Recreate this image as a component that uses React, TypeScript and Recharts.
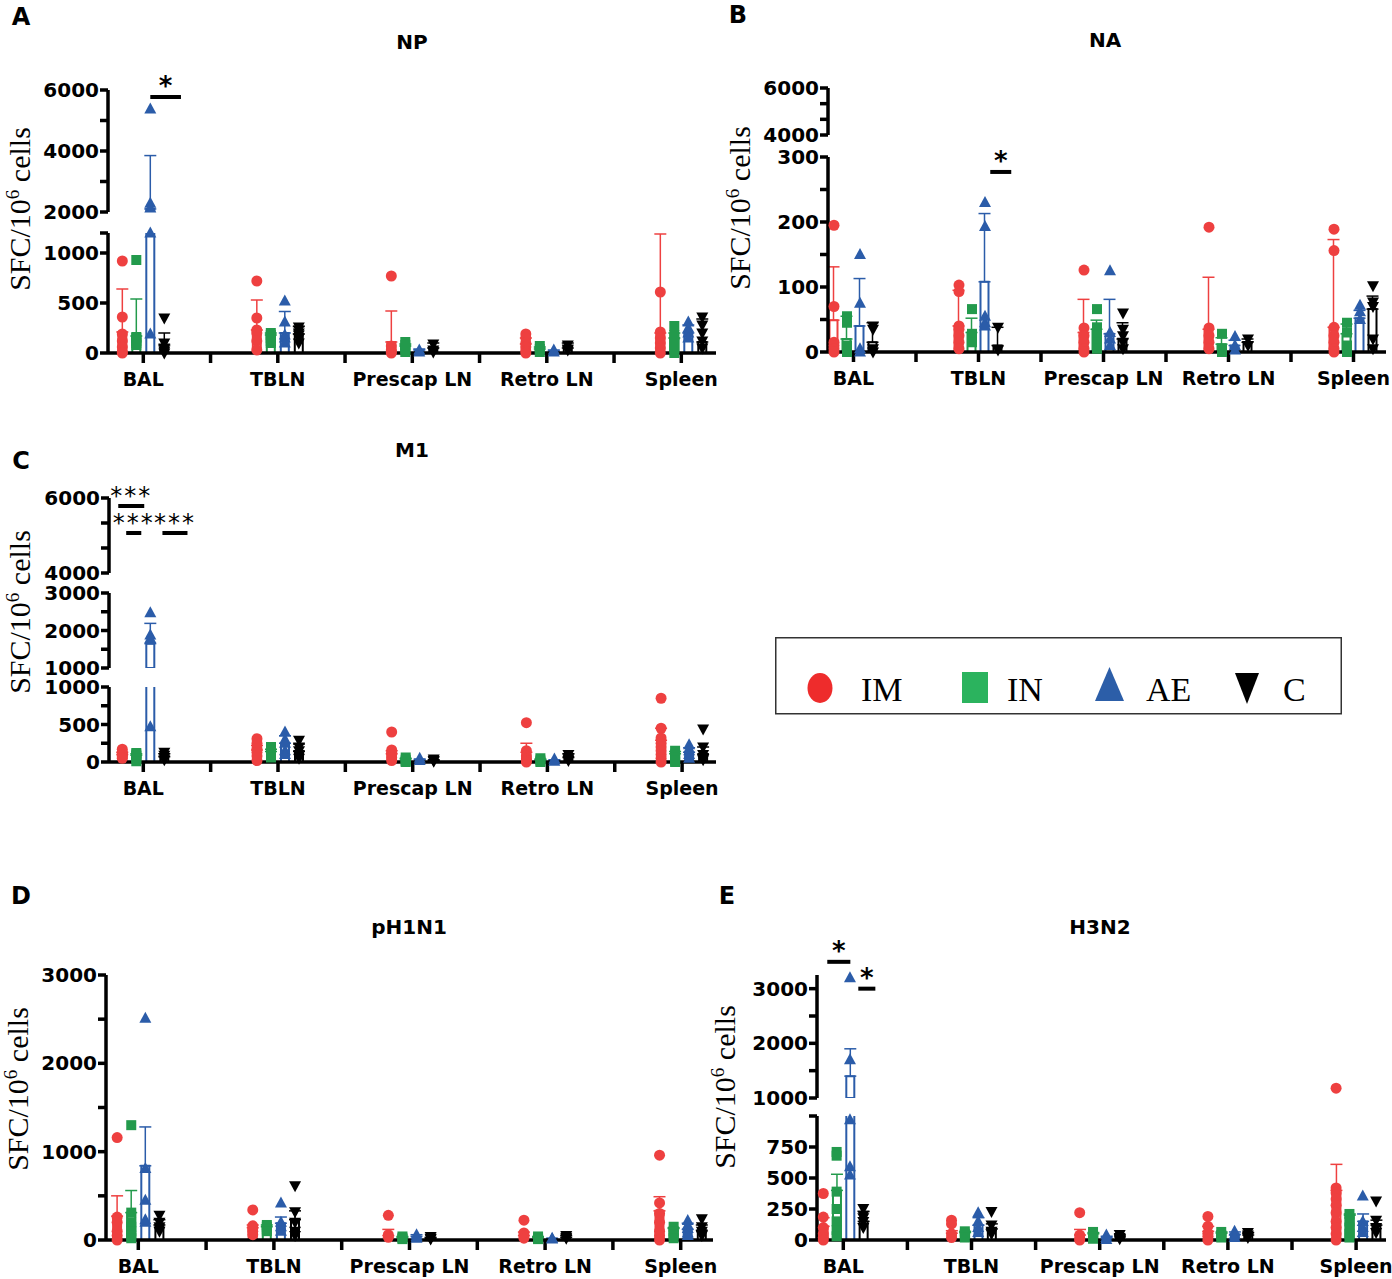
import React from "react";
import { ComposedChart, Bar, Cell, ErrorBar, Scatter, XAxis, YAxis, ReferenceLine } from "recharts";

const SANS = "'DejaVu Sans', Verdana, sans-serif";
const SERIF = "'Liberation Serif', 'Times New Roman', serif";

const CATEGORIES = ["BAL", "TBLN", "Prescap LN", "Retro LN", "Spleen"];
const GROUPS = ["IM", "IN", "AE", "C"];
const COLORS: Record<string, string> = { IM: "#ee4040", IN: "#239a4c", AE: "#2b5ca9", C: "#000000" };
const OFFSETS = [-0.156, -0.052, 0.052, 0.156];
const X_TICKS = [0, 0.5, 1, 1.5, 2, 2.5, 3, 3.5, 4];

// rows = categories, columns = IM, IN, AE, C
const NP_MEAN = [[210, 170, 2100, 80], [230, 180, 200, 190], [110, 70, 30, 50], [90, 40, 20, 50], [200, 150, 200, 110]];
const NP_SD = [[430, 370, 1750, 120], [300, 20, 215, 75], [310, 20, 10, 50], [60, 20, 10, 50], [990, 50, 80, 230]];
const NP_POINTS = [
  [[920, 360, 190, 120, 60, 10, 0], [930, 160, 150, 120, 100, 80], [5380, 2290, 2130, 1200, 190], [350, 100, 50, 20, 0]],
  [[720, 350, 230, 200, 120, 30], [200, 180, 150, 120, 100], [520, 310, 180, 150, 100], [260, 230, 200, 180, 150, 100]],
  [[770, 70, 30, 10, 0], [110, 80, 40, 10], [30, 10], [90, 30, 10]],
  [[190, 150, 100, 60, 20, 0], [70, 40, 10], [30, 10], [80, 40, 30]],
  [[610, 210, 150, 100, 50, 0], [270, 180, 150, 100, 50, 0], [310, 250, 200, 150], [360, 280, 200, 120, 50]],
];

const NA_MEAN = [[49, 20, 40, 15], [40, 30, 108, 10], [30, 35, 28, 20], [35, 12, 10, 15], [38, 28, 52, 66]];
const NA_SD = [[82, 35, 73, 30], [55, 22, 105, 28], [51, 14, 53, 25], [80, 10, 8, 5], [135, 15, 12, 20]];
const NA_POINTS = [
  [[195, 70, 15, 10, 5, 0], [55, 45, 10, 5, 0], [150, 75, 5, 0], [40, 35, 5, 0]],
  [[103, 93, 40, 35, 25, 15, 5], [66, 28, 20, 15], [230, 193, 55, 45, 40], [38, 3]],
  [[126, 37, 25, 15, 5, 0], [66, 38, 25, 15, 5], [125, 30, 20, 10], [60, 35, 25, 15, 5]],
  [[192, 37, 25, 15, 5], [28, 5, 0], [24, 10, 3], [20, 10]],
  [[189, 156, 38, 25, 15, 5, 0], [45, 30, 10, 5, 0], [72, 62, 50], [102, 77, 70, 20, 5]],
];

const M1_MEAN = [[100, 90, 1650, 70], [160, 140, 250, 140], [110, 40, 30, 20], [130, 30, 20, 60], [290, 110, 130, 100]];
const M1_SD = [[30, 20, 540, 40], [60, 30, 100, 100], [40, 10, 10, 10], [120, 10, 10, 50], [160, 30, 60, 100]];
const M1_POINTS = [
  [[170, 130, 110, 90, 70, 50], [120, 100, 80, 50, 10], [2475, 1880, 1790, 470], [130, 90, 60, 30]],
  [[310, 250, 180, 130, 80, 20], [200, 150, 100, 60], [400, 300, 250, 150, 100], [290, 200, 150, 100, 50]],
  [[400, 160, 130, 100, 60, 20], [60, 30, 10, 0], [50, 20], [40, 20, 10]],
  [[524, 150, 80, 40, 20, 0], [50, 20, 0], [40, 10], [100, 60, 40, 20]],
  [[850, 450, 320, 250, 200, 150, 100, 50, 0], [150, 100, 60, 20, 0], [230, 180, 150, 100, 50], [440, 200, 100, 60, 30]],
];

const H1_MEAN = [[270, 310, 840, 170], [140, 150, 190, 230], [50, 30, 40, 20], [50, 30, 15, 30], [330, 130, 120, 110]];
const H1_SD = [[230, 250, 440, 60], [30, 20, 70, 100], [70, 10, 20, 10], [40, 10, 5, 20], [160, 10, 70, 60]];
const H1_POINTS = [
  [[1160, 260, 200, 100, 50, 0], [1300, 310, 200, 150, 100, 50, 20], [2510, 810, 450, 230, 200], [280, 200, 150, 100]],
  [[340, 160, 130, 100, 60], [170, 150, 120, 100], [420, 200, 150, 100], [615, 320, 200, 100, 50]],
  [[280, 60, 30], [40, 20, 10], [60, 40, 20], [40, 20, 10]],
  [[225, 80, 50, 20], [40, 20, 10], [20, 10], [50, 30, 20]],
  [[960, 420, 300, 200, 100, 50, 0], [150, 100, 60, 20], [220, 170, 130, 80, 50], [240, 150, 100, 50]],
];

const H3_MEAN = [[110, 400, 1400, 150], [55, 60, 120, 90], [40, 50, 20, 25], [70, 55, 45, 40], [400, 200, 150, 120]];
const H3_SD = [[70, 130, 500, 80], [20, 10, 60, 40], [45, 10, 10, 15], [40, 10, 20, 20], [210, 10, 60, 40]];
const H3_POINTS = [
  [[375, 185, 100, 50, 20, 0], [710, 680, 390, 250, 150, 80, 30], [3200, 1700, 970, 590, 525], [255, 200, 180, 150, 100]],
  [[160, 130, 50, 20], [70, 50, 20], [220, 150, 100, 60], [230, 120, 70, 50]],
  [[220, 40, 10, 0], [65, 30, 10], [40, 20, 5], [45, 20, 10]],
  [[190, 110, 55, 30, 0], [65, 40, 20], [70, 40, 20], [60, 40, 20]],
  [[1180, 420, 380, 330, 280, 220, 150, 100, 50, 0], [210, 150, 100, 50, 20], [355, 150, 100, 60], [315, 160, 100, 60]],
];

type Seg = { lo: number; hi: number; ticks: number[]; labels: number[]; top: number; bottom: number };
type Note = { seg: number; x1: number; x2: number; y: number; text: string; bold: boolean };
type PanelDef = {
  mean: number[][]; sd: number[][]; points: number[][][];
  chartLeft: number; axisX: number; right: number; cat0: number; spacing: number;
  segs: Seg[]; notes: Note[];
};

const PANEL_A: PanelDef = {
  mean: NP_MEAN, sd: NP_SD, points: NP_POINTS,
  chartLeft: 0, axisX: 108, right: 716, cat0: 143.3, spacing: 134.5,
  segs: [
    { lo: 2000, hi: 6000, ticks: [2000, 3000, 4000, 5000, 6000], labels: [2000, 4000, 6000], top: 90, bottom: 212 },
    { lo: 0, hi: 1200, ticks: [0, 500, 1000, 1200], labels: [0, 500, 1000], top: 233, bottom: 353 },
  ],
  notes: [{ seg: 0, x1: 0.052, x2: 0.28, y: 5770, text: "*", bold: true }],
};

const PANEL_B: PanelDef = {
  mean: NA_MEAN, sd: NA_SD, points: NA_POINTS,
  chartLeft: 700, axisX: 828, right: 1386, cat0: 853.5, spacing: 125,
  segs: [
    { lo: 4000, hi: 6000, ticks: [4000, 4667, 5333, 6000], labels: [4000, 6000], top: 88, bottom: 135 },
    { lo: 0, hi: 300, ticks: [0, 50, 100, 150, 200, 250, 300], labels: [0, 100, 200, 300], top: 157, bottom: 352 },
  ],
  notes: [{ seg: 1, x1: 1.094, x2: 1.262, y: 277, text: "*", bold: true }],
};

const PANEL_C: PanelDef = {
  mean: M1_MEAN, sd: M1_SD, points: M1_POINTS,
  chartLeft: 0, axisX: 109, right: 716, cat0: 143.3, spacing: 134.7,
  segs: [
    { lo: 4000, hi: 6000, ticks: [4000, 4667, 5333, 6000], labels: [4000, 6000], top: 498, bottom: 573 },
    { lo: 1000, hi: 3000, ticks: [1000, 1500, 2000, 2500, 3000], labels: [1000, 2000, 3000], top: 593, bottom: 668 },
    { lo: 0, hi: 1000, ticks: [0, 250, 500, 750, 1000], labels: [0, 500, 1000], top: 687, bottom: 762 },
  ],
  notes: [
    { seg: 0, x1: -0.186, x2: 0.007, y: 5787, text: "***", bold: false },
    { seg: 0, x1: -0.127, x2: -0.015, y: 5067, text: "***", bold: false },
    { seg: 0, x1: 0.142, x2: 0.328, y: 5067, text: "***", bold: false },
  ],
};

const PANEL_D: PanelDef = {
  mean: H1_MEAN, sd: H1_SD, points: H1_POINTS,
  chartLeft: 0, axisX: 106, right: 713, cat0: 138.3, spacing: 135.6,
  segs: [
    { lo: 0, hi: 3000, ticks: [0, 500, 1000, 1500, 2000, 2500, 3000], labels: [0, 1000, 2000, 3000], top: 975, bottom: 1240 },
  ],
  notes: [],
};

const PANEL_E: PanelDef = {
  mean: H3_MEAN, sd: H3_SD, points: H3_POINTS,
  chartLeft: 700, axisX: 817, right: 1386, cat0: 843.3, spacing: 128.2,
  segs: [
    { lo: 1000, hi: 3250, ticks: [1000, 1500, 2000, 2500, 3000], labels: [1000, 2000, 3000], top: 975, bottom: 1098 },
    { lo: 0, hi: 1000, ticks: [0, 250, 500, 750, 1000], labels: [0, 250, 500, 750], top: 1116, bottom: 1240 },
  ],
  notes: [
    { seg: 0, x1: -0.125, x2: 0.055, y: 3491, text: "*", bold: true },
    { seg: 0, x1: 0.117, x2: 0.25, y: 3000, text: "*", bold: true },
  ],
};

// bars whose mean sits below a broken segment are left out of that segment
function buildBars(mean: number[][], sd: number[][], lo: number, bottom: boolean) {
  const rows: any[] = [];
  mean.forEach((row, c) =>
    row.forEach((m, g) => {
      const show = bottom || m > lo;
      const r: any = { x: c + OFFSETS[g], mean: show ? m : null, g };
      if (show) r["err" + GROUPS[g]] = [0, sd[c][g]];
      rows.push(r);
    })
  );
  return rows;
}

function buildPoints(points: number[][][], lo: number, hi: number, bottom: boolean) {
  const out: any[] = [];
  points.forEach((cat, c) =>
    cat.forEach((vals, g) =>
      vals.forEach((v) => {
        if ((bottom ? v >= lo : v > lo) && v <= hi) out.push({ x: c + OFFSETS[g], y: v, g });
      })
    )
  );
  return out;
}

function Marker(props: any) {
  const { cx, cy, payload } = props;
  if (cx == null || cy == null) return <g />;
  const g = payload.g;
  const c = COLORS[GROUPS[g]];
  if (g === 0) return <circle cx={cx} cy={cy} r={5.5} fill={c} />;
  if (g === 1) return <rect x={cx - 5} y={cy - 5} width={10} height={10} fill={c} />;
  if (g === 2) return <polygon points={`${cx},${cy - 6.5} ${cx - 6},${cy + 4.5} ${cx + 6},${cy + 4.5}`} fill={c} />;
  return <polygon points={`${cx - 6},${cy - 4.5} ${cx + 6},${cy - 4.5} ${cx},${cy + 6.5}`} fill={c} />;
}

const AXIS_STROKE = { stroke: "#000", strokeWidth: 3.5 };

function SegmentChart({ p, si }: { p: PanelDef; si: number }) {
  const seg = p.segs[si];
  const isBottom = si === p.segs.length - 1;
  const mTop = si === 0 ? 55 : 14;
  const mBottom = 14;
  const xAxisH = 45;
  const plotH = seg.bottom - seg.top;
  const height = mTop + plotH + (isBottom ? xAxisH : mBottom);
  const width = p.right + 12 - p.chartLeft;
  const xDomain = [(p.axisX - p.cat0) / p.spacing, (p.right - p.cat0) / p.spacing];
  const bars = buildBars(p.mean, p.sd, seg.lo, isBottom);
  const pts = buildPoints(p.points, seg.lo, seg.hi, isBottom);
  const notes = p.notes.filter((n) => n.seg === si);
  return (
    <div style={{ position: "absolute", left: p.chartLeft, top: seg.top - mTop }}>
      <ComposedChart
        width={width}
        height={height}
        data={bars}
        margin={{ top: mTop, right: 12, bottom: isBottom ? 0 : mBottom, left: 0 }}
      >
        <XAxis
          type="number"
          dataKey="x"
          domain={xDomain}
          ticks={X_TICKS}
          interval={0}
          hide={!isBottom}
          height={xAxisH}
          axisLine={AXIS_STROKE}
          tickLine={AXIS_STROKE}
          tickSize={10}
          tickMargin={10}
          tickFormatter={(v: number) => (Number.isInteger(v) ? CATEGORIES[v] : "")}
          tick={{ fontFamily: SANS, fontSize: 19, fontWeight: "bold", fill: "#000" }}
        />
        <YAxis
          yAxisId="clip"
          type="number"
          domain={[seg.lo, seg.hi]}
          ticks={seg.ticks}
          interval={0}
          allowDataOverflow
          width={p.axisX - p.chartLeft}
          axisLine={AXIS_STROKE}
          tickLine={AXIS_STROKE}
          tickSize={8}
          tickMargin={1}
          tickFormatter={(v: number) => (seg.labels.includes(v) ? String(v) : "")}
          tick={{ fontFamily: SANS, fontSize: 20, fontWeight: "bold", fill: "#000" }}
        />
        <YAxis yAxisId="pts" type="number" dataKey="y" domain={[seg.lo, seg.hi]} hide />
        <Bar yAxisId="clip" dataKey="mean" barSize={8} fill="#ffffff" strokeWidth={2} isAnimationActive={false}>
          {bars.map((b, i) => (
            <Cell key={i} stroke={COLORS[GROUPS[b.g]]} />
          ))}
          {GROUPS.map((g) => (
            <ErrorBar key={g} dataKey={"err" + g} width={6} strokeWidth={1.5} stroke={COLORS[g]} direction="y" />
          ))}
        </Bar>
        <Scatter yAxisId="pts" data={pts} dataKey="y" shape={Marker} isAnimationActive={false} />
        {notes.map((n, i) => (
          <ReferenceLine
            key={i}
            yAxisId="clip"
            segment={[{ x: n.x1, y: n.y }, { x: n.x2, y: n.y }]}
            stroke="#000"
            strokeWidth={4}
            ifOverflow="visible"
            label={{
              value: n.text,
              position: "top",
              offset: 2,
              fill: "#000",
              fontFamily: SANS,
              fontSize: n.bold ? 26 : 24,
              fontWeight: n.bold ? "bold" : "normal",
              letterSpacing: n.bold ? 0 : 2,
            }}
          />
        ))}
      </ComposedChart>
    </div>
  );
}

function Panel({ p }: { p: PanelDef }) {
  return (
    <>
      {p.segs.map((_, i) => (
        <SegmentChart key={i} p={p} si={i} />
      ))}
    </>
  );
}

function Txt({ x, y, size, bold, children }: { x: number; y: number; size: number; bold?: boolean; children: React.ReactNode }) {
  return (
    <div
      style={{
        position: "absolute",
        left: x,
        top: y,
        transform: "translate(-50%, -50%)",
        fontFamily: SANS,
        fontSize: size,
        fontWeight: bold ? "bold" : "normal",
        lineHeight: 1,
        whiteSpace: "nowrap",
        color: "#000",
      }}
    >
      {children}
    </div>
  );
}

function YLabel({ x, y }: { x: number; y: number }) {
  return (
    <div
      style={{
        position: "absolute",
        left: x,
        top: y,
        transform: "translate(-50%, -50%) rotate(-90deg)",
        fontFamily: SERIF,
        fontSize: 30,
        lineHeight: 1,
        whiteSpace: "nowrap",
        color: "#000",
      }}
    >
      SFC/10<span style={{ fontSize: 19, position: "relative", top: -11 }}>6</span> cells
    </div>
  );
}

function LegendBox() {
  const L = 775;
  const T = 637;
  const textStyle = { fontFamily: SERIF, fontSize: 34, fill: "#000" } as const;
  return (
    <svg style={{ position: "absolute", left: L, top: T }} width={567} height={78}>
      <rect x={0.75} y={0.75} width={565.5} height={76} fill="#fff" stroke="#333" strokeWidth={1.5} />
      <ellipse cx={820 - L} cy={688 - T} rx={12.5} ry={15} fill="#ee2c2c" />
      <text x={861 - L} y={701 - T} {...textStyle}>IM</text>
      <rect x={962 - L} y={672 - T} width={26} height={31} fill="#2bb35e" />
      <text x={1007 - L} y={701 - T} {...textStyle}>IN</text>
      <polygon points={`${1095 - L},${701 - T} ${1124 - L},${701 - T} ${1109.5 - L},${667 - T}`} fill="#2c5ea8" />
      <text x={1146 - L} y={701 - T} {...textStyle}>AE</text>
      <polygon points={`${1235 - L},${673 - T} ${1259 - L},${673 - T} ${1247 - L},${704 - T}`} fill="#000" />
      <text x={1283 - L} y={701 - T} {...textStyle}>C</text>
    </svg>
  );
}

export default function App() {
  return (
    <div style={{ position: "absolute", left: 0, top: 0, width: 1392, height: 1279, background: "#fff", overflow: "hidden" }}>
      <Panel p={PANEL_A} />
      <Panel p={PANEL_B} />
      <Panel p={PANEL_C} />
      <Panel p={PANEL_D} />
      <Panel p={PANEL_E} />
      <LegendBox />

      <Txt x={21} y={17} size={24} bold>A</Txt>
      <Txt x={738} y={15} size={24} bold>B</Txt>
      <Txt x={21} y={461} size={24} bold>C</Txt>
      <Txt x={21} y={896} size={24} bold>D</Txt>
      <Txt x={727} y={896} size={24} bold>E</Txt>

      <Txt x={412} y={42} size={20} bold>NP</Txt>
      <Txt x={1105} y={40} size={20} bold>NA</Txt>
      <Txt x={412} y={450} size={20} bold>M1</Txt>
      <Txt x={409} y={927} size={20} bold>pH1N1</Txt>
      <Txt x={1100} y={927} size={20} bold>H3N2</Txt>

      <YLabel x={20} y={209} />
      <YLabel x={740} y={208} />
      <YLabel x={20} y={612} />
      <YLabel x={18} y={1089} />
      <YLabel x={725} y={1087} />
    </div>
  );
}
